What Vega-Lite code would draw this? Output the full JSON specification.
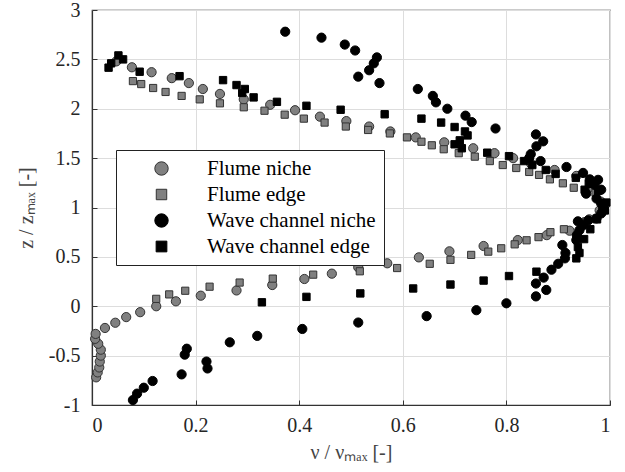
{
  "$schema": "https://vega.github.io/schema/vega-lite/v6.json",
  "width": 518,
  "height": 395,
  "autosize": "none",
  "padding": {"left": 92, "top": 10, "right": 15, "bottom": 67},
  "background": "white",
  "data": {
    "values": [
      {"s": "Flume niche", "v": 0.008, "z": -0.72},
      {"s": "Flume niche", "v": 0.011, "z": -0.67},
      {"s": "Flume niche", "v": 0.014, "z": -0.62},
      {"s": "Flume niche", "v": 0.015, "z": -0.56},
      {"s": "Flume niche", "v": 0.017, "z": -0.5},
      {"s": "Flume niche", "v": 0.017, "z": -0.44},
      {"s": "Flume niche", "v": 0.012, "z": -0.38},
      {"s": "Flume niche", "v": 0.006, "z": -0.33},
      {"s": "Flume niche", "v": 0.007, "z": -0.28},
      {"s": "Flume niche", "v": 0.025, "z": -0.22},
      {"s": "Flume niche", "v": 0.045, "z": -0.167},
      {"s": "Flume niche", "v": 0.066, "z": -0.11},
      {"s": "Flume niche", "v": 0.093, "z": -0.06},
      {"s": "Flume niche", "v": 0.124, "z": 0.0},
      {"s": "Flume niche", "v": 0.162, "z": 0.05},
      {"s": "Flume niche", "v": 0.21, "z": 0.107},
      {"s": "Flume niche", "v": 0.279, "z": 0.16},
      {"s": "Flume niche", "v": 0.348, "z": 0.215},
      {"s": "Flume niche", "v": 0.41, "z": 0.276},
      {"s": "Flume niche", "v": 0.463, "z": 0.33},
      {"s": "Flume niche", "v": 0.514, "z": 0.395},
      {"s": "Flume niche", "v": 0.57, "z": 0.435},
      {"s": "Flume niche", "v": 0.631, "z": 0.495},
      {"s": "Flume niche", "v": 0.69, "z": 0.556},
      {"s": "Flume niche", "v": 0.756, "z": 0.61},
      {"s": "Flume niche", "v": 0.822, "z": 0.67},
      {"s": "Flume niche", "v": 0.878, "z": 0.72},
      {"s": "Flume niche", "v": 0.922, "z": 0.765},
      {"s": "Flume niche", "v": 0.96, "z": 0.88},
      {"s": "Flume niche", "v": 0.98, "z": 0.97},
      {"s": "Flume niche", "v": 0.982, "z": 1.06},
      {"s": "Flume niche", "v": 0.964, "z": 1.21},
      {"s": "Flume niche", "v": 0.935, "z": 1.32},
      {"s": "Flume niche", "v": 0.893, "z": 1.38},
      {"s": "Flume niche", "v": 0.848, "z": 1.44},
      {"s": "Flume niche", "v": 0.813, "z": 1.5},
      {"s": "Flume niche", "v": 0.777, "z": 1.55},
      {"s": "Flume niche", "v": 0.736, "z": 1.6},
      {"s": "Flume niche", "v": 0.68, "z": 1.66},
      {"s": "Flume niche", "v": 0.625, "z": 1.71},
      {"s": "Flume niche", "v": 0.576, "z": 1.77},
      {"s": "Flume niche", "v": 0.535, "z": 1.82},
      {"s": "Flume niche", "v": 0.491, "z": 1.875},
      {"s": "Flume niche", "v": 0.44, "z": 1.92},
      {"s": "Flume niche", "v": 0.392, "z": 1.985},
      {"s": "Flume niche", "v": 0.344, "z": 2.04},
      {"s": "Flume niche", "v": 0.293, "z": 2.095},
      {"s": "Flume niche", "v": 0.247, "z": 2.15},
      {"s": "Flume niche", "v": 0.214, "z": 2.2},
      {"s": "Flume niche", "v": 0.187, "z": 2.26},
      {"s": "Flume niche", "v": 0.154, "z": 2.31},
      {"s": "Flume niche", "v": 0.115, "z": 2.37},
      {"s": "Flume niche", "v": 0.077, "z": 2.42},
      {"s": "Flume niche", "v": 0.047, "z": 2.48},
      {"s": "Flume edge", "v": 0.124, "z": 0.075},
      {"s": "Flume edge", "v": 0.149, "z": 0.12},
      {"s": "Flume edge", "v": 0.18, "z": 0.157},
      {"s": "Flume edge", "v": 0.227, "z": 0.198},
      {"s": "Flume edge", "v": 0.285, "z": 0.24},
      {"s": "Flume edge", "v": 0.349, "z": 0.28},
      {"s": "Flume edge", "v": 0.427, "z": 0.32},
      {"s": "Flume edge", "v": 0.517, "z": 0.354},
      {"s": "Flume edge", "v": 0.589, "z": 0.387},
      {"s": "Flume edge", "v": 0.652, "z": 0.43},
      {"s": "Flume edge", "v": 0.692, "z": 0.47},
      {"s": "Flume edge", "v": 0.732, "z": 0.52},
      {"s": "Flume edge", "v": 0.765, "z": 0.553},
      {"s": "Flume edge", "v": 0.79, "z": 0.587},
      {"s": "Flume edge", "v": 0.816, "z": 0.627},
      {"s": "Flume edge", "v": 0.839, "z": 0.668},
      {"s": "Flume edge", "v": 0.862, "z": 0.7},
      {"s": "Flume edge", "v": 0.885, "z": 0.75},
      {"s": "Flume edge", "v": 0.911, "z": 0.78},
      {"s": "Flume edge", "v": 0.954, "z": 0.86},
      {"s": "Flume edge", "v": 0.974, "z": 0.89},
      {"s": "Flume edge", "v": 0.985, "z": 0.96},
      {"s": "Flume edge", "v": 0.988, "z": 1.04},
      {"s": "Flume edge", "v": 0.972, "z": 1.15},
      {"s": "Flume edge", "v": 0.953, "z": 1.16},
      {"s": "Flume edge", "v": 0.93, "z": 1.2},
      {"s": "Flume edge", "v": 0.909, "z": 1.245},
      {"s": "Flume edge", "v": 0.884, "z": 1.285},
      {"s": "Flume edge", "v": 0.863, "z": 1.33},
      {"s": "Flume edge", "v": 0.844, "z": 1.36},
      {"s": "Flume edge", "v": 0.819, "z": 1.4},
      {"s": "Flume edge", "v": 0.793, "z": 1.43},
      {"s": "Flume edge", "v": 0.768, "z": 1.47},
      {"s": "Flume edge", "v": 0.739, "z": 1.515},
      {"s": "Flume edge", "v": 0.708, "z": 1.55},
      {"s": "Flume edge", "v": 0.679, "z": 1.59},
      {"s": "Flume edge", "v": 0.656, "z": 1.63},
      {"s": "Flume edge", "v": 0.636, "z": 1.666},
      {"s": "Flume edge", "v": 0.608, "z": 1.71},
      {"s": "Flume edge", "v": 0.575, "z": 1.75},
      {"s": "Flume edge", "v": 0.533, "z": 1.785},
      {"s": "Flume edge", "v": 0.49, "z": 1.82},
      {"s": "Flume edge", "v": 0.449, "z": 1.86},
      {"s": "Flume edge", "v": 0.409, "z": 1.9},
      {"s": "Flume edge", "v": 0.372, "z": 1.94},
      {"s": "Flume edge", "v": 0.333, "z": 1.98},
      {"s": "Flume edge", "v": 0.293, "z": 2.015},
      {"s": "Flume edge", "v": 0.247, "z": 2.055},
      {"s": "Flume edge", "v": 0.208, "z": 2.095},
      {"s": "Flume edge", "v": 0.173, "z": 2.13},
      {"s": "Flume edge", "v": 0.142, "z": 2.17},
      {"s": "Flume edge", "v": 0.118, "z": 2.21},
      {"s": "Flume edge", "v": 0.095, "z": 2.25},
      {"s": "Flume edge", "v": 0.079, "z": 2.28},
      {"s": "Wave channel niche", "v": 0.079, "z": -0.95},
      {"s": "Wave channel niche", "v": 0.087, "z": -0.885},
      {"s": "Wave channel niche", "v": 0.1, "z": -0.825},
      {"s": "Wave channel niche", "v": 0.117, "z": -0.757},
      {"s": "Wave channel niche", "v": 0.173, "z": -0.69},
      {"s": "Wave channel niche", "v": 0.223, "z": -0.63},
      {"s": "Wave channel niche", "v": 0.221, "z": -0.56},
      {"s": "Wave channel niche", "v": 0.179, "z": -0.49},
      {"s": "Wave channel niche", "v": 0.183, "z": -0.43},
      {"s": "Wave channel niche", "v": 0.266, "z": -0.365},
      {"s": "Wave channel niche", "v": 0.319, "z": -0.3},
      {"s": "Wave channel niche", "v": 0.406, "z": -0.23},
      {"s": "Wave channel niche", "v": 0.514, "z": -0.165},
      {"s": "Wave channel niche", "v": 0.646, "z": -0.1},
      {"s": "Wave channel niche", "v": 0.742, "z": -0.04},
      {"s": "Wave channel niche", "v": 0.8, "z": 0.03},
      {"s": "Wave channel niche", "v": 0.857, "z": 0.1},
      {"s": "Wave channel niche", "v": 0.877, "z": 0.165},
      {"s": "Wave channel niche", "v": 0.857, "z": 0.23},
      {"s": "Wave channel niche", "v": 0.872, "z": 0.29},
      {"s": "Wave channel niche", "v": 0.887, "z": 0.37},
      {"s": "Wave channel niche", "v": 0.9, "z": 0.43},
      {"s": "Wave channel niche", "v": 0.913, "z": 0.485},
      {"s": "Wave channel niche", "v": 0.914, "z": 0.54},
      {"s": "Wave channel niche", "v": 0.908, "z": 0.62},
      {"s": "Wave channel niche", "v": 0.935, "z": 0.67},
      {"s": "Wave channel niche", "v": 0.936, "z": 0.72},
      {"s": "Wave channel niche", "v": 0.941, "z": 0.77},
      {"s": "Wave channel niche", "v": 0.948, "z": 0.82},
      {"s": "Wave channel niche", "v": 0.938, "z": 0.86},
      {"s": "Wave channel niche", "v": 0.958, "z": 0.87},
      {"s": "Wave channel niche", "v": 0.974, "z": 0.89},
      {"s": "Wave channel niche", "v": 0.983, "z": 0.94},
      {"s": "Wave channel niche", "v": 0.987, "z": 0.99},
      {"s": "Wave channel niche", "v": 0.983, "z": 1.04},
      {"s": "Wave channel niche", "v": 0.974, "z": 1.09},
      {"s": "Wave channel niche", "v": 0.954, "z": 1.14},
      {"s": "Wave channel niche", "v": 0.983, "z": 1.18},
      {"s": "Wave channel niche", "v": 0.97, "z": 1.23},
      {"s": "Wave channel niche", "v": 0.977, "z": 1.28},
      {"s": "Wave channel niche", "v": 0.961, "z": 1.285},
      {"s": "Wave channel niche", "v": 0.948, "z": 1.35},
      {"s": "Wave channel niche", "v": 0.916, "z": 1.41},
      {"s": "Wave channel niche", "v": 0.866, "z": 1.47},
      {"s": "Wave channel niche", "v": 0.844, "z": 1.5},
      {"s": "Wave channel niche", "v": 0.847, "z": 1.54},
      {"s": "Wave channel niche", "v": 0.858, "z": 1.62},
      {"s": "Wave channel niche", "v": 0.871, "z": 1.67},
      {"s": "Wave channel niche", "v": 0.857, "z": 1.74},
      {"s": "Wave channel niche", "v": 0.779, "z": 1.8},
      {"s": "Wave channel niche", "v": 0.733, "z": 1.865},
      {"s": "Wave channel niche", "v": 0.721, "z": 1.93},
      {"s": "Wave channel niche", "v": 0.686, "z": 2.0},
      {"s": "Wave channel niche", "v": 0.664, "z": 2.065},
      {"s": "Wave channel niche", "v": 0.658, "z": 2.13},
      {"s": "Wave channel niche", "v": 0.629, "z": 2.2},
      {"s": "Wave channel niche", "v": 0.555, "z": 2.26},
      {"s": "Wave channel niche", "v": 0.514, "z": 2.325},
      {"s": "Wave channel niche", "v": 0.535, "z": 2.39},
      {"s": "Wave channel niche", "v": 0.544, "z": 2.46},
      {"s": "Wave channel niche", "v": 0.55, "z": 2.52},
      {"s": "Wave channel niche", "v": 0.508, "z": 2.59},
      {"s": "Wave channel niche", "v": 0.488, "z": 2.65},
      {"s": "Wave channel niche", "v": 0.443, "z": 2.72},
      {"s": "Wave channel niche", "v": 0.373, "z": 2.78},
      {"s": "Wave channel edge", "v": 0.328, "z": 0.04},
      {"s": "Wave channel edge", "v": 0.414, "z": 0.095},
      {"s": "Wave channel edge", "v": 0.518, "z": 0.13},
      {"s": "Wave channel edge", "v": 0.62, "z": 0.18},
      {"s": "Wave channel edge", "v": 0.692, "z": 0.22},
      {"s": "Wave channel edge", "v": 0.756, "z": 0.26},
      {"s": "Wave channel edge", "v": 0.805, "z": 0.306},
      {"s": "Wave channel edge", "v": 0.858, "z": 0.35},
      {"s": "Wave channel edge", "v": 0.935, "z": 0.485},
      {"s": "Wave channel edge", "v": 0.941, "z": 0.54},
      {"s": "Wave channel edge", "v": 0.938, "z": 0.6},
      {"s": "Wave channel edge", "v": 0.95, "z": 0.68},
      {"s": "Wave channel edge", "v": 0.962, "z": 0.78},
      {"s": "Wave channel edge", "v": 0.975, "z": 0.88},
      {"s": "Wave channel edge", "v": 0.99, "z": 0.97},
      {"s": "Wave channel edge", "v": 0.993, "z": 1.05},
      {"s": "Wave channel edge", "v": 0.977, "z": 1.17},
      {"s": "Wave channel edge", "v": 0.951, "z": 1.18},
      {"s": "Wave channel edge", "v": 0.959, "z": 1.24},
      {"s": "Wave channel edge", "v": 0.934, "z": 1.3},
      {"s": "Wave channel edge", "v": 0.895, "z": 1.34},
      {"s": "Wave channel edge", "v": 0.876, "z": 1.38},
      {"s": "Wave channel edge", "v": 0.85, "z": 1.43},
      {"s": "Wave channel edge", "v": 0.834, "z": 1.47},
      {"s": "Wave channel edge", "v": 0.805, "z": 1.52},
      {"s": "Wave channel edge", "v": 0.763, "z": 1.555},
      {"s": "Wave channel edge", "v": 0.714, "z": 1.6},
      {"s": "Wave channel edge", "v": 0.7, "z": 1.64},
      {"s": "Wave channel edge", "v": 0.71, "z": 1.68},
      {"s": "Wave channel edge", "v": 0.725, "z": 1.73},
      {"s": "Wave channel edge", "v": 0.72, "z": 1.77},
      {"s": "Wave channel edge", "v": 0.7, "z": 1.815},
      {"s": "Wave channel edge", "v": 0.674, "z": 1.86},
      {"s": "Wave channel edge", "v": 0.636, "z": 1.9},
      {"s": "Wave channel edge", "v": 0.565, "z": 1.944},
      {"s": "Wave channel edge", "v": 0.48, "z": 1.99},
      {"s": "Wave channel edge", "v": 0.414, "z": 2.03},
      {"s": "Wave channel edge", "v": 0.357, "z": 2.07},
      {"s": "Wave channel edge", "v": 0.312, "z": 2.115},
      {"s": "Wave channel edge", "v": 0.29, "z": 2.16},
      {"s": "Wave channel edge", "v": 0.295, "z": 2.2},
      {"s": "Wave channel edge", "v": 0.279, "z": 2.24},
      {"s": "Wave channel edge", "v": 0.253, "z": 2.29},
      {"s": "Wave channel edge", "v": 0.169, "z": 2.33},
      {"s": "Wave channel edge", "v": 0.092, "z": 2.375},
      {"s": "Wave channel edge", "v": 0.06, "z": 2.5},
      {"s": "Wave channel edge", "v": 0.051, "z": 2.54},
      {"s": "Wave channel edge", "v": 0.037, "z": 2.46},
      {"s": "Wave channel edge", "v": 0.032, "z": 2.416}
    ]
  },
  "mark": {"type": "point", "filled": true, "opacity": 1, "size": 85, "strokeWidth": 1},
  "encoding": {
    "x": {
      "field": "v", "type": "quantitative",
      "scale": {"domain": [0, 1], "nice": false, "zero": false},
      "axis": {
        "title": "ν / νₘₐₓ [-]",
        "values": [0, 0.2, 0.4, 0.6, 0.8, 1],
        "labelExpr": "replace(format(datum.value, '~g'), '−', '-')",
        "labelPadding": 15,
        "titlePadding": 7
      }
    },
    "y": {
      "field": "z", "type": "quantitative",
      "scale": {"domain": [-1, 3], "nice": false, "zero": false},
      "axis": {
        "title": "z / zₘₐₓ [-]",
        "values": [-1, -0.5, 0, 0.5, 1, 1.5, 2, 2.5, 3],
        "labelExpr": "replace(format(datum.value, '~g'), '−', '-')",
        "labelPadding": 17,
        "titlePadding": 12
      }
    },
    "color": {
      "field": "s", "type": "nominal",
      "scale": {
        "domain": ["Flume niche", "Flume edge", "Wave channel niche", "Wave channel edge"],
        "range": ["#808080", "#808080", "#000000", "#000000"]
      },
      "legend": {
        "title": null,
        "orient": "none",
        "legendX": 24,
        "legendY": 140,
        "fillColor": "white",
        "strokeColor": "#222222",
        "padding": 8,
        "symbolOffset": 27,
        "symbolSize": 180,
        "symbolStrokeWidth": 1,
        "labelOffset": 35,
        "labelFont": "Liberation Serif",
        "labelFontSize": 21,
        "labelColor": "#000000",
        "labelLimit": 400,
        "rowPadding": 4
      }
    },
    "stroke": {
      "field": "s", "type": "nominal",
      "scale": {
        "domain": ["Flume niche", "Flume edge", "Wave channel niche", "Wave channel edge"],
        "range": ["#333333", "#333333", "#000000", "#000000"]
      }
    },
    "shape": {
      "field": "s", "type": "nominal",
      "scale": {
        "domain": ["Flume niche", "Flume edge", "Wave channel niche", "Wave channel edge"],
        "range": ["circle", "M-0.78,-0.78L0.78,-0.78L0.78,0.78L-0.78,0.78Z", "circle", "M-0.8,-0.8L0.8,-0.8L0.8,0.8L-0.8,0.8Z"]
      }
    }
  },
  "config": {
    "font": "Liberation Serif",
    "view": {"stroke": "#333333", "strokeWidth": 1.2},
    "axis": {
      "labelFont": "Liberation Serif",
      "labelFontSize": 20,
      "labelColor": "#262626",
      "titleFont": "Liberation Serif",
      "titleFontSize": 20,
      "titleFontWeight": "normal",
      "titleColor": "#444444",
      "domainColor": "#333333",
      "domainWidth": 1.2,
      "tickColor": "#333333",
      "tickSize": -5,
      "gridColor": "#dddddd",
      "gridWidth": 1
    }
  }
}
